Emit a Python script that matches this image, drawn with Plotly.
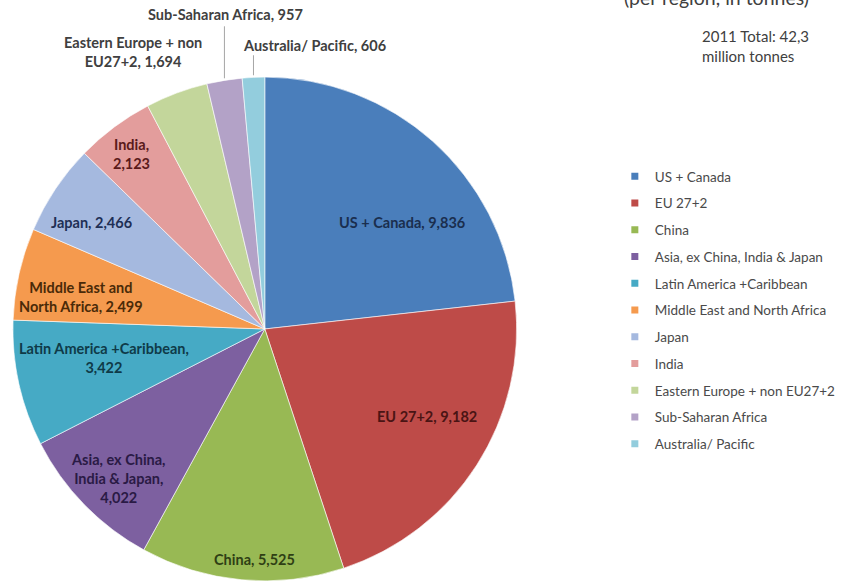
import math
import plotly.graph_objects as go

# ---------------- data ----------------
categories = ["US + Canada", "EU 27+2", "China", "Asia, ex China, India & Japan",
              "Latin America +Caribbean", "Middle East and North Africa", "Japan",
              "India", "Eastern Europe + non EU27+2", "Sub-Saharan Africa",
              "Australia/ Pacific"]
values = [9836, 9182, 5525, 4022, 3422, 2499, 2466, 2123, 1694, 957, 606]
# display names for the slice labels (line breaks only)
label_names = ["US + Canada", "EU 27+2", "China", "Asia, ex China,<br>India & Japan",
               "Latin America +Caribbean", "Middle East and<br>North Africa", "Japan",
               "India", "Eastern Europe + non<br>EU27+2", "Sub-Saharan Africa",
               "Australia/ Pacific"]
label_seps = [", ", ", ", ", ", ",<br>", ",<br>", ", ", ", ", ",<br>", ", ", ", ", ", "]
note_text = "2011 Total: 42,3<br>million tonnes"
title_text = "(per region, in tonnes)"

# ---------------- style ----------------
colors = ["#4A7EBB", "#BE4B48", "#98B954", "#7D60A0", "#46AAC5", "#F59A4E",
          "#A5B9DF", "#E39D9C", "#C3D69B", "#B3A2C7", "#93CDDD"]
text_colors = ["#1A2E4E", "#4A1414", "#2F3F14", "#2A1A45", "#0F3A48", "#4A2A08",
               "#1E2F55", "#5A1A1A", "#404040", "#404040", "#404040"]
# radial fraction where labels sit, and pixel nudges (dx right, dy up)
label_r = [0.68, 0.75, 0.91, 0.91, 0.65, 0.745, 0.82, 0.87, 1.0, 1.0, 1.0]
label_shift = [(23, -22), (3, 15), (11, 0), (18, 12), (-1, 7), (-1, -9), (-2, -9),
               (-2, -2), (-44, 39), (1, 64), (61, 30)]
leader = [None] * 9 + [52, 20]   # leader line length (px) for outside labels

W, H = 841, 583
dom_x = [0.0155, 0.6195]
dom_y = [0.0, 0.8714]
FONT = "Lato"

fig = go.Figure()
fig.add_trace(go.Pie(
    labels=categories, values=values, sort=False, direction="clockwise",
    rotation=0, textinfo="none", showlegend=False,
    marker=dict(colors=colors, line=dict(color="rgba(255,255,255,0.6)", width=1)),
    domain=dict(x=dom_x, y=dom_y), hoverinfo="label+value",
))

# legend through empty marker traces (allows Excel-like spacing)
for name, c in zip(categories, colors):
    fig.add_trace(go.Scatter(x=[None], y=[None], mode="markers", name=name,
                             legendgroup=name,
                             marker=dict(symbol="square", size=7, color=c)))

# geometry of the pie, as plotly lays it out
cx = (dom_x[0] + dom_x[1]) / 2 * W
cy = H - (dom_y[0] + dom_y[1]) / 2 * H
R = min((dom_x[1] - dom_x[0]) * W, (dom_y[1] - dom_y[0]) * H) / 2
total = sum(values)


def to_paper(px, py):
    return px / W, 1 - py / H


annotations = []
shapes = []
cum = 0
for i, v in enumerate(values):
    mid = (cum + v / 2) / total * 2 * math.pi
    cum += v
    f = label_r[i]
    px = cx + f * R * math.sin(mid)
    py = cy - f * R * math.cos(mid)
    x, y = to_paper(px, py)
    txt = f"<b>{label_names[i]}{label_seps[i]}{v:,}</b>"
    annotations.append(dict(
        x=x, y=y, xref="paper", yref="paper", text=txt, showarrow=False,
        xanchor="center", yanchor="middle", align="center",
        xshift=label_shift[i][0], yshift=label_shift[i][1],
        font=dict(family=FONT, size=14.5, color=text_colors[i])))
    if leader[i]:
        ex, ey = to_paper(cx + R * math.sin(mid), cy - R * math.cos(mid))
        shapes.append(dict(type="line", xref="paper", yref="paper",
                           x0=ex, y0=ey, x1=ex, y1=ey + leader[i] / H,
                           line=dict(color="#A6A6A6", width=1)))

annotations.append(dict(x=706 / W, y=1 - 25 / H, xref="paper", yref="paper",
                        text=note_text, showarrow=False, xanchor="left",
                        yanchor="top", align="left",
                        font=dict(family=FONT, size=15, color="#404040")))
annotations.append(dict(x=723 / W, y=1 - 11 / H, xref="paper", yref="paper",
                        text=title_text, showarrow=False, xanchor="center",
                        yanchor="bottom",
                        font=dict(family=FONT, size=19.5, color="#404040")))

fig.update_layout(
    width=W, height=H, margin=dict(l=0, r=0, t=0, b=0),
    paper_bgcolor="white", plot_bgcolor="white",
    xaxis=dict(visible=False), yaxis=dict(visible=False),
    showlegend=True,
    legend=dict(x=620 / W, y=1 - 161 / H, xanchor="left", yanchor="top",
                traceorder="grouped", tracegroupgap=6.2,
                font=dict(family=FONT, size=13.5, color="#4A4A4A"),
                bgcolor="rgba(0,0,0,0)"),
    annotations=annotations, shapes=shapes,
)

fig.write_html("out.html", config={"displayModeBar": False},
               post_script="document.body.style.margin='0px';")
